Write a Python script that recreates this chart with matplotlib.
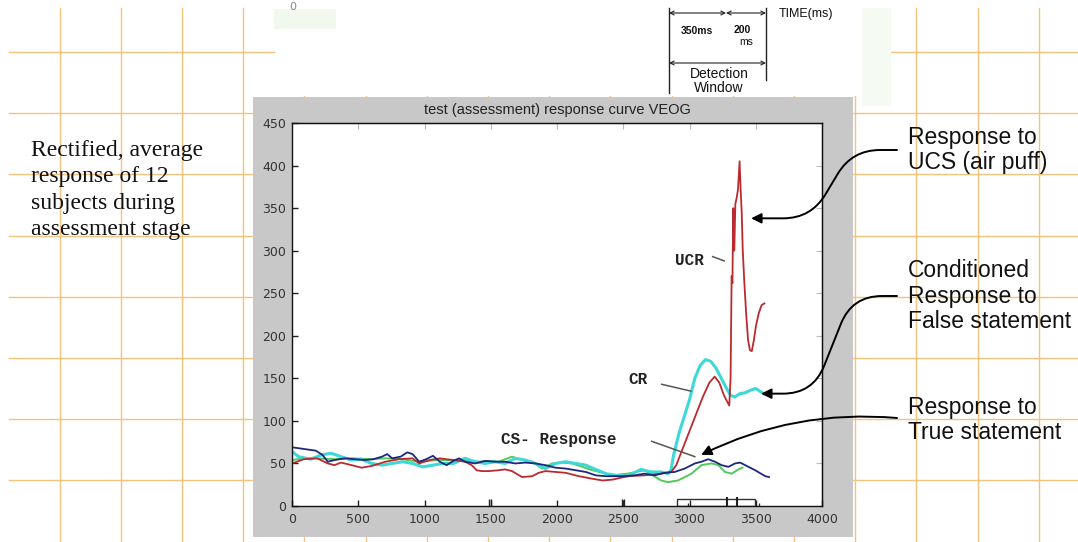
import matplotlib
matplotlib.use("Agg")
import matplotlib.pyplot as plt
from matplotlib.patches import Rectangle, FancyArrowPatch
from matplotlib.lines import Line2D

W, H = 1078, 542

# ---- data (time in ms, rectified VEOG amplitude) ----
navy_t = [0, 90, 180, 230, 270, 320, 400, 475, 550, 615, 680, 718, 756, 820, 870, 910,
          960, 1013, 1064, 1115, 1167, 1218, 1260, 1306, 1382, 1458, 1534, 1609, 1685,
          1761, 1837, 1913, 1989, 2065, 2141, 2217, 2293, 2369, 2445, 2500, 2584, 2660,
          2736, 2812, 2888, 2964, 3040, 3090, 3141, 3192, 3242, 3293, 3344, 3382, 3420,
          3496, 3572, 3600]
navy_v = [69, 67, 65, 60, 52, 54, 56, 55, 54, 55, 58, 61, 56, 58, 63, 61,
          52, 55, 59, 52, 48, 53, 56, 52, 50, 53, 52, 52, 50,
          51, 50, 48, 45, 44, 42, 40, 36, 35, 35, 35, 36, 38,
          36, 39, 40, 44, 50, 52, 55, 52, 48, 46, 50, 51, 48,
          42, 35, 34]

red_t = [0, 90, 190, 270, 320, 370, 450, 525, 600, 705, 808, 910, 960, 1040, 1115, 1218,
         1306, 1356, 1394, 1432, 1483, 1559, 1609, 1660, 1736, 1812, 1862, 1913, 1989,
         2065, 2166, 2268, 2344, 2420, 2532, 2660, 2786, 2862, 2900, 2950, 3000, 3050,
         3100, 3150, 3190, 3225, 3260, 3300, 3310, 3318, 3324, 3330, 3338, 3346, 3356,
         3366, 3378, 3386, 3394, 3402, 3414, 3428, 3442, 3456, 3470, 3486, 3502, 3522,
         3544, 3565]
red_v = [50, 55, 56, 50, 48, 51, 48, 45, 47, 52, 55, 56, 50, 54, 56, 54,
         52, 48, 42, 41, 41, 42, 43, 41, 34, 35, 39, 41, 40,
         39, 35, 32, 30, 31, 35, 36, 38, 40, 48, 68, 88, 108,
         128, 145, 152, 145, 130, 118, 150, 270, 262, 350, 300, 355, 362,
         372, 405, 372, 345, 300, 262, 225, 195, 183, 182, 195, 212, 226,
         236, 238]

cyan_t = [0, 50, 140, 220, 295, 370, 450, 525, 600, 680, 756, 833, 910, 987, 1064, 1140,
          1218, 1306, 1382, 1458, 1534, 1609, 1685, 1761, 1837, 1913, 1989, 2065, 2141,
          2217, 2293, 2369, 2445, 2532, 2634, 2710, 2786, 2837, 2860, 2880, 2920, 2960,
          3000, 3040, 3080, 3120, 3160, 3200, 3240, 3280, 3310, 3340, 3380, 3420, 3460,
          3500, 3530, 3560]
cyan_v = [64, 58, 55, 60, 62, 58, 54, 55, 50, 48, 50, 52, 50, 46, 48, 50,
          50, 56, 52, 50, 52, 50, 56, 54, 50, 44, 50, 52, 50,
          48, 43, 38, 36, 35, 43, 40, 40, 38, 42, 60, 85, 105,
          125, 150, 165, 172, 170, 162, 150, 138, 130, 128, 132, 133, 136,
          138, 135, 132]

green_t = [0, 90, 190, 320, 450, 600, 705, 833, 960, 1090, 1154, 1255, 1331, 1407, 1483,
           1559, 1660, 1736, 1812, 1888, 1964, 2040, 2116, 2192, 2268, 2344, 2420, 2532,
           2660, 2786, 2837, 2913, 3015, 3090, 3166, 3217, 3268, 3318, 3369, 3400]
green_v = [54, 56, 56, 55, 56, 55, 56, 55, 52, 54, 54, 54, 53, 52, 53,
           52, 58, 54, 52, 44, 50, 51, 50, 46, 42, 39, 36, 38,
           42, 30, 28, 30, 38, 48, 50, 48, 40, 38, 43, 45]

x_ticks = list(range(0, 4001, 500))
y_ticks = list(range(0, 451, 50))


def fx(x):
    return x / W


def fy(y):
    return 1 - y / H


fig = plt.figure(figsize=(W / 100, H / 100), dpi=100)
fig.patch.set_facecolor("white")

# graph-paper background
orange = "#f3c37e"
for gx in [59.5 + 61.2 * k for k in range(17)]:
    fig.add_artist(Line2D([fx(gx), fx(gx)], [fy(8), fy(H)], color=orange, lw=1, zorder=0))
for gy in [52 + 61.2 * k for k in range(8)]:
    fig.add_artist(Line2D([fx(9), fx(W)], [fy(gy), fy(gy)], color=orange, lw=1, zorder=0))

# pasted diagram area at the top
fig.add_artist(Rectangle((fx(275), fy(96)), (891 - 275) / W, 96 / H,
                         facecolor="white", edgecolor="none", zorder=1))
fig.add_artist(Rectangle((fx(862), fy(106)), 29 / W, 98 / H,
                         facecolor="#f5faf3", edgecolor="none", zorder=1))
fig.add_artist(Rectangle((fx(274), fy(29)), 62 / W, 20 / H,
                         facecolor="#f1f8ee", edgecolor="none", zorder=1))
fig.text(fx(293), fy(7), "0", fontsize=8, color="#888", ha="center", va="center", zorder=2)

# detection window sketch
lk = dict(color="#222", lw=1, zorder=2)
fig.add_artist(Line2D([fx(669), fx(669)], [fy(8), fy(93)], **lk))
fig.add_artist(Line2D([fx(766), fx(766)], [fy(8), fy(80)], **lk))
ak = dict(arrowstyle="<->", color="#222", lw=0.8, shrinkA=0, shrinkB=0, mutation_scale=7)
for (xa, xb, yy) in [(669, 726, 13), (726, 766, 13), (669, 766, 63)]:
    fig.add_artist(FancyArrowPatch((fx(xa), fy(yy)), (fx(xb), fy(yy)),
                                   transform=fig.transFigure, zorder=2, **ak))
small = dict(family="Liberation Sans", color="#111", zorder=2, ha="center", va="center")
fig.text(fx(697), fy(31), "350ms", fontsize=7.5, weight="bold", **small)
fig.text(fx(742), fy(30), "200", fontsize=7.5, weight="bold", **small)
fig.text(fx(746), fy(42), "ms", fontsize=7.5, **small)
fig.text(fx(719), fy(74), "Detection", fontsize=10, **small)
fig.text(fx(719), fy(88), "Window", fontsize=10, **small)
fig.text(fx(806), fy(14), "TIME(ms)", fontsize=9, **small)

# grey matlab figure panel
fig.add_artist(Rectangle((fx(253), fy(537)), 600 / W, (537 - 97) / H,
                         facecolor="#c8c8c8", edgecolor="none", zorder=3))

ax = fig.add_axes([fx(292), fy(506), 530 / W, 383 / H], zorder=4)
ax.set_facecolor("white")

ax.plot(green_t, green_v, color="#52c95a", lw=1.4)
ax.plot(cyan_t, cyan_v, color="#3fd8d8", lw=2.2)
ax.plot(red_t, red_v, color="#bb2a2e", lw=1.3)
ax.plot(navy_t, navy_v, color="#1d2780", lw=1.3)

ax.set_xlim(0, 4000)
ax.set_ylim(0, 450)
ax.set_xticks(x_ticks)
ax.set_yticks(y_ticks)
ax.tick_params(direction="in", length=4, width=1, labelsize=9, colors="#222")
ax.tick_params(axis="x", pad=5)
ax.tick_params(axis="y", pad=4)
for lab in ax.get_xticklabels() + ax.get_yticklabels():
    lab.set_color("#333")
for s in ax.spines.values():
    s.set_color("#111")
    s.set_linewidth(1)

sec_x = ax.secondary_xaxis("top")
sec_x.set_xticks(x_ticks)
sec_x.tick_params(direction="in", length=4, color="#bbbbbb", labeltop=False)
sec_y = ax.secondary_yaxis("right")
sec_y.set_yticks(y_ticks)
sec_y.tick_params(direction="in", length=4, color="#bbbbbb", labelright=False)

fig.text(fx(557), fy(110), "test (assessment) response curve VEOG",
         family="Liberation Sans", fontsize=10.5, color="#222",
         ha="center", va="center", zorder=5)

# marks drawn at the bottom of the original plot
ax.add_patch(Rectangle((2905, 0), 587, 8, fill=False, edgecolor="#333", lw=1))
ax.vlines([3284, 3359], 0, 10, color="#222", lw=1.5)
ax.vlines([2992, 3522], 0, 4, color="#333", lw=1)
ax.vlines([1490, 1505, 2490, 2505], 0, 8, color="#222", lw=1)

# labels written onto the plot
cour = dict(family="Liberation Mono", weight="bold", fontsize=11.5, color="#222",
            ha="center", va="center")
ax.text(3000, 289, "UCR", **cour)
ax.plot([3175, 3262], [293, 288], color="#555", lw=1.1)
ax.text(2610, 149, "CR", **cour)
ax.plot([2790, 3010], [143, 135], color="#555", lw=1.1)
ax.text(2010, 78, "CS- Response", **cour)
ax.plot([2715, 3040], [76, 58], color="#555", lw=1.1)

# side notes
fig.text(fx(31), fy(190), "Rectified, average\nresponse of 12\nsubjects during\nassessment stage",
         family="Liberation Serif", fontsize=17, color="#111", ha="left", va="center",
         linespacing=1.32, zorder=5)
side = dict(family="Liberation Sans", fontsize=16.5, color="#111", ha="left",
            va="center", linespacing=1.12, zorder=5)
fig.text(fx(908), fy(150), "Response to\nUCS (air puff)", **side)
fig.text(fx(908), fy(296), "Conditioned\nResponse to\nFalse statement", **side)
fig.text(fx(908), fy(420), "Response to\nTrue statement", **side)

arw = dict(arrowstyle="-|>", color="black", lw=1.4, mutation_scale=15,
           shrinkA=0, shrinkB=0)
ax.annotate("", xy=(3465, 338), xycoords="data", xytext=(897, H - 150),
            textcoords="figure pixels", annotation_clip=False,
            arrowprops=dict(connectionstyle="arc,angleA=180,armA=45,angleB=0,armB=60,rad=28",
                            **arw))
ax.annotate("", xy=(3540, 132), xycoords="data", xytext=(897, H - 296),
            textcoords="figure pixels", annotation_clip=False,
            arrowprops=dict(connectionstyle="arc,angleA=180,armA=45,angleB=0,armB=52,rad=30",
                            **arw))
ax.annotate("", xy=(3088, 60), xycoords="data", xytext=(897, H - 418),
            textcoords="figure pixels", annotation_clip=False,
            arrowprops=dict(connectionstyle="arc3,rad=0.14", **arw))

fig.savefig("out.png", dpi=100)
